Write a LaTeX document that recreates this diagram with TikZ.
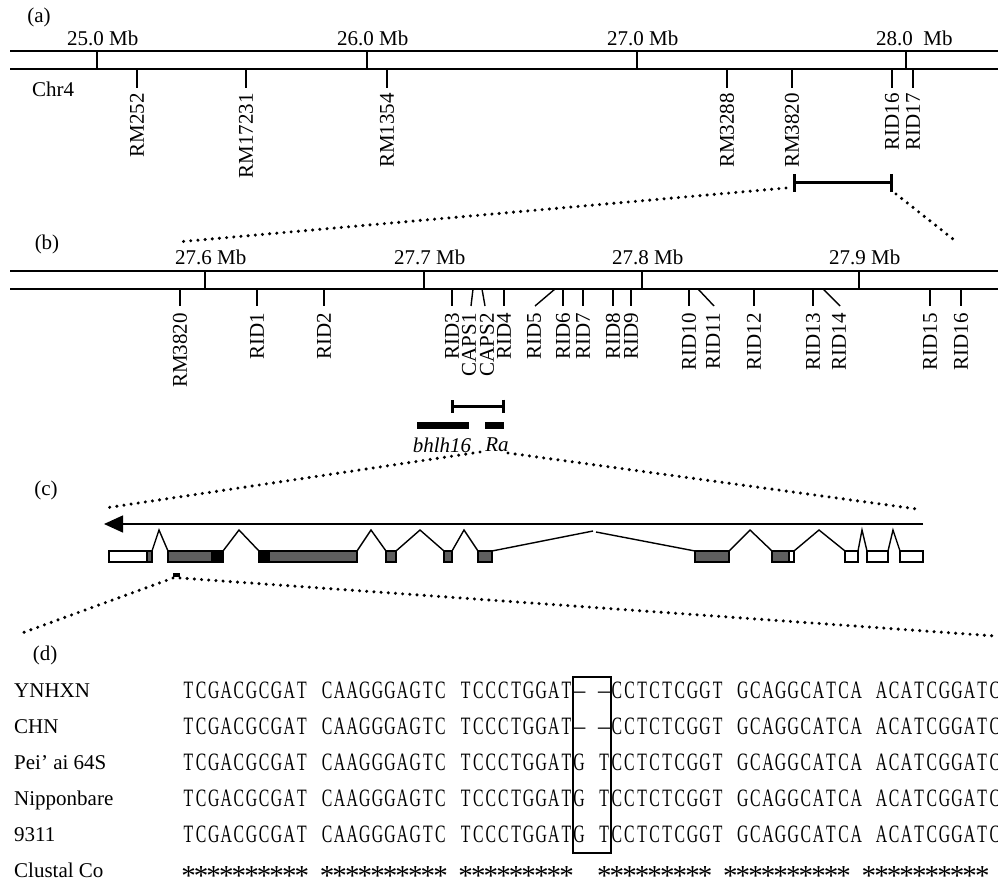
\documentclass[tikz,border=0pt]{standalone}
\usepackage{fontspec}
\setmainfont{Liberation Serif}
\newfontfamily\seqfont[FakeStretch=0.63]{Liberation Serif}
\usetikzlibrary{arrows.meta}
\colorlet{cdsgray}{black!63}
\newcommand\labelsize{\fontsize{21}{24}\selectfont}
\newcommand\gapdash{{\rmfamily\fontsize{25}{26}\selectfont –}}
\newcommand\seqrow[1]{\seqstep#1\relax}
\def\seqstep#1{\ifx\relax#1\else\makebox[12.6pt]{#1}\expandafter\seqstep\fi}
\tikzset{
  lbl/.style={inner sep=0pt, font=\labelsize},
  mb/.style={anchor=base west, inner sep=0pt, font=\labelsize},
  mk/.style={rotate=90, anchor=east, inner sep=0pt, font=\labelsize},
  strain/.style={anchor=base west, inner sep=0pt, font=\labelsize},
  seq/.style={anchor=base west, inner sep=0pt, font=\seqfont\fontsize{25}{26}\selectfont},
  starrow/.style={anchor=base west, inner sep=0pt, font=\fontsize{29}{30}\selectfont},
  gname/.style={inner sep=0pt, font=\labelsize\itshape},
  chrline/.style={line width=1.4pt},
  mtick/.style={line width=1.4pt},
  scalebar/.style={line width=3pt, {Bar[width=#1]}-{Bar[width=#1]}},
  zoomline/.style={line width=3.4pt, line cap=round, dash pattern=on 0pt off 7.2pt},
  strand/.style={line width=1.4pt, -{Triangle[length=19pt,width=17pt]}},
  exon/.style={draw=black, line width=1.3pt},
  intron/.style={line width=1.4pt},
  gapbox/.style={draw=black, line width=1.2pt}
}
\begin{document}
\begin{tikzpicture}[x=1pt,y=-1pt]
\path[use as bounding box, fill=white] (0,0) rectangle (998,885);

% (a) whole chromosome
\node[lbl] (pa) at (39,17) {(a)};
\draw[chrline] (10,51) -- (998,51) (10,69) -- (998,69);
\foreach \x/\t [count=\i] in {97/25.0 Mb, 367/26.0 Mb, 637/27.0 Mb, 906/28.0\ \ Mb} {
  \draw[mtick] (\x,51) -- (\x,69);
  \node[mb] (ma-\i) at (\x-30,46) {\t};
}
\node[strain] (chr) at (32,97) {Chr4};
\foreach \x/\t in {137/RM252, 246/RM17231, 387/RM1354, 727/RM3288, 792/RM3820, 892/RID16, 913/RID17} {
  \draw[mtick] (\x,69) -- (\x,88);
  \node[mk] (a-\t) at (\x,93) {\t};
}
\coordinate (sa1) at (793,183);
\coordinate (sa2) at (893,183);
\draw[scalebar=18pt] (sa1) -- (sa2);
\coordinate (za1) at (786,188);
\coordinate (za2) at (177,242);
\coordinate (za3) at (896,194);
\coordinate (za4) at (958,243);
\draw[zoomline] (za1) -- (za2);
\draw[zoomline] (za3) -- (za4);

% (b) fine map
\node[lbl] (pb) at (47,244) {(b)};
\draw[chrline] (10,271) -- (998,271) (10,289) -- (998,289);
\foreach \x/\t [count=\i] in {205/27.6, 424/27.7, 642/27.8, 859/27.9} {
  \draw[mtick] (\x,271) -- (\x,289);
  \node[mb] (mb-\i) at (\x-30,265) {\t\ Mb};
}
\foreach \xa/\xb/\xl/\t in {180/180/180/RM3820, 257/257/257/RID1, 324/324/324/RID2,
    452/452/452/RID3, 473/471/469/CAPS1, 482/485/487/CAPS2, 504/504/504/RID4,
    555/535/534/RID5, 563/563/563/RID6, 583/583/583/RID7, 613/613/613/RID8,
    631/631/631/RID9, 689/689/689/RID10, 698/714/713/RID11, 754/754/754/RID12,
    813/813/813/RID13, 823/840/839/RID14, 930/930/930/RID15, 961/961/961/RID16} {
  \draw[mtick] (\xa,289) -- (\xb,306);
  \node[mk] (b-\t) at (\xl,313) {\t};
}
\coordinate (sb1) at (451,406);
\coordinate (sb2) at (505,406);
\draw[scalebar=13pt] (sb1) -- (sb2);
\fill (417,422) rectangle (469,429);
\fill (485,422) rectangle (504,429);
\node[gname] (bhlh) at (442,445) {bhlh16};
\node[gname] (ra) at (497,445) {Ra};
\coordinate (zb1) at (480,452);
\coordinate (zb2) at (105,508);
\coordinate (zb3) at (508,453);
\coordinate (zb4) at (917,509);
\draw[zoomline] (zb1) -- (zb2);
\draw[zoomline] (zb3) -- (zb4);

% (c) gene structure
\node[lbl] (pc) at (46,490) {(c)};
\coordinate (tss) at (923,524);
\coordinate (tes) at (104,524);
\draw[strand] (tss) -- (tes);
\foreach \a/\p/\b in {152/159/168, 223/239/259, 357/371/386, 396/420/444, 452/464/478,
    729/750/772, 794/819/845, 858/862/867, 888/893/900}
  \draw[intron] (\a,551) -- (\p,530) -- (\b,551);
\draw[intron] (492,551) -- (593,531);
\draw[intron] (596,532) -- (695,551);
\foreach \a/\b/\c in {109/147/white, 147/152/cdsgray, 168/212/cdsgray, 212/223/black,
    259/269/black, 269/357/cdsgray, 386/396/cdsgray, 444/452/cdsgray, 478/492/cdsgray,
    695/729/cdsgray, 772/789/cdsgray, 789/794/white, 845/858/white, 867/888/white, 900/923/white}
  \draw[exon, fill=\c] (\a,551) rectangle (\b,562);
\fill (173,573) rectangle (180,577);
\coordinate (zc1) at (173,578);
\coordinate (zc2) at (22,633);
\coordinate (zc3) at (180,578);
\coordinate (zc4) at (995,636);
\draw[zoomline] (zc1) -- (zc2);
\draw[zoomline] (zc3) -- (zc4);

% (d) alignment
\node[lbl] (pd) at (45,655) {(d)};
\node[strain] (s1) at (14,697) {YNHXN};
\node[strain] (s2) at (14,733) {CHN};
\node[strain] (s3) at (14,769) {Pei’ ai 64S};
\node[strain] (s4) at (14,805) {Nipponbare};
\node[strain] (s5) at (14,841) {9311};
\node[strain] (s6) at (14,877) {Clustal Co};
\node[seq] (q1) at (182,698) {\seqrow{TCGACGCGAT~CAAGGGAGTC~TCCCTGGAT{\gapdash}~{\gapdash}CCTCTCGGT~GCAGGCATCA~ACATCGGATC}};
\node[seq] (q2) at (182,734) {\seqrow{TCGACGCGAT~CAAGGGAGTC~TCCCTGGAT{\gapdash}~{\gapdash}CCTCTCGGT~GCAGGCATCA~ACATCGGATC}};
\node[seq] (q3) at (182,770) {\seqrow{TCGACGCGAT~CAAGGGAGTC~TCCCTGGATG~TCCTCTCGGT~GCAGGCATCA~ACATCGGATC}};
\node[seq] (q4) at (182,806) {\seqrow{TCGACGCGAT~CAAGGGAGTC~TCCCTGGATG~TCCTCTCGGT~GCAGGCATCA~ACATCGGATC}};
\node[seq] (q5) at (182,842) {\seqrow{TCGACGCGAT~CAAGGGAGTC~TCCCTGGATG~TCCTCTCGGT~GCAGGCATCA~ACATCGGATC}};
\node[starrow] (q6) at (182,885) {\seqrow{**********~**********~*********~~*********~**********~**********}};
\draw[gapbox] (573,677) rectangle (611,853);
\end{tikzpicture}
\end{document}
